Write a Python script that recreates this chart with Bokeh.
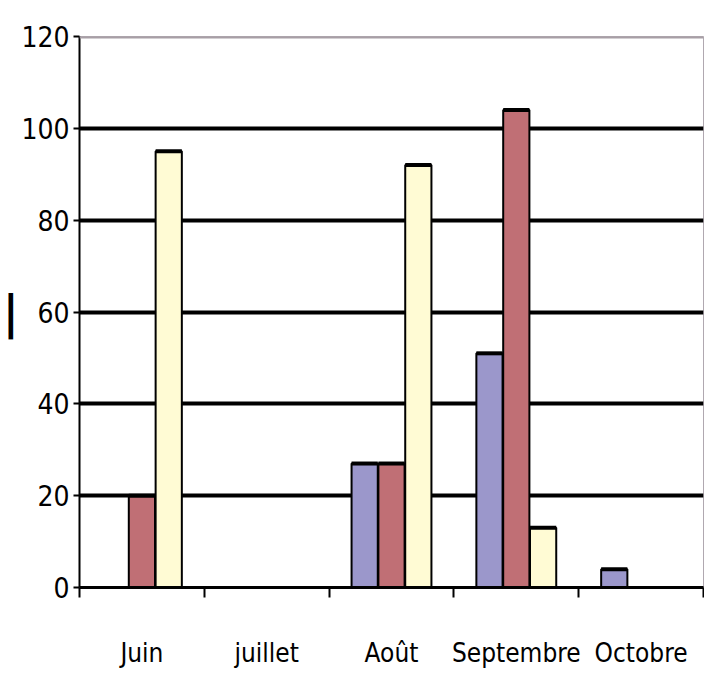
from bokeh.plotting import figure
from bokeh.models import FixedTicker, Span, ColumnDataSource
from bokeh.embed import file_html
from bokeh.resources import INLINE

categories = ["Juin", "juillet", "Août", "Septembre", "Octobre"]
serie_bleue = [0, 0, 27, 51, 4]
serie_rouge = [20, 0, 27, 104, 0]
serie_jaune = [95, 0, 92, 13, 0]
y_ticks = [0, 20, 40, 60, 80, 100, 120]

colors = ["#9b97cb", "#c06f75", "#fffbd4"]
offsets = [-0.215, 0.0, 0.215]
bar_w = 0.21
FONT = "'DejaVu Sans Condensed', 'Liberation Sans', sans-serif"

p = figure(width=704, height=677, x_range=(0, len(categories)), y_range=(0, 120),
           output_backend="svg", toolbar_location=None,
           min_border_left=79, min_border_right=1, min_border_top=36, min_border_bottom=90)
p.background_fill_color = "white"
p.border_fill_color = "white"
p.outline_line_color = "#b0a8b0"
p.outline_line_width = 1

centers = [i + 0.5 for i in range(len(categories))]
for vals, col, off in zip([serie_bleue, serie_rouge, serie_jaune], colors, offsets):
    xs = [c + off for c, v in zip(centers, vals) if v > 0]
    ys = [v for v in vals if v > 0]
    src = ColumnDataSource(dict(x=xs, top=ys,
                                x0=[x - bar_w / 2 for x in xs], x1=[x + bar_w / 2 for x in xs]))
    p.vbar(x="x", top="top", bottom=0, width=bar_w, source=src,
           fill_color=col, line_color="black", line_width=2)
    p.segment(x0="x0", x1="x1", y0="top", y1="top", source=src,
              line_color="black", line_width=4)

# grid
p.xgrid.visible = False
p.ygrid.ticker = FixedTicker(ticks=y_ticks[1:-1])
p.ygrid.grid_line_color = "black"
p.ygrid.grid_line_width = 4
p.ygrid.level = "underlay"
p.add_layout(Span(location=y_ticks[-1], dimension="width", line_color="#a89fa6", line_width=4))

# y axis
p.yaxis.ticker = FixedTicker(ticks=y_ticks)
p.yaxis.axis_line_color = "black"
p.yaxis.axis_line_width = 2
p.yaxis.major_tick_out = 6
p.yaxis.major_tick_in = 0
p.yaxis.major_tick_line_width = 2
p.yaxis.minor_tick_line_color = None
p.yaxis.major_label_text_font = FONT
p.yaxis.major_label_text_font_size = "28px"
p.yaxis.major_label_text_color = "black"
p.yaxis.major_label_standoff = 4
p.yaxis.axis_label = "|"
p.yaxis.axis_label_orientation = "horizontal"
p.yaxis.axis_label_text_font = FONT
p.yaxis.axis_label_text_font_size = "46px"
p.yaxis.axis_label_text_font_style = "bold"
p.yaxis.axis_label_text_color = "black"
p.yaxis.axis_label_standoff = 0

# x axis
p.xaxis.ticker = FixedTicker(ticks=centers, minor_ticks=list(range(len(categories) + 1)))
p.xaxis.major_label_overrides = {c: name for c, name in zip(centers, categories)}
p.xaxis.axis_line_color = "black"
p.xaxis.axis_line_width = 3
p.xaxis.major_tick_line_color = None
p.xaxis.minor_tick_out = 10
p.xaxis.minor_tick_in = 0
p.xaxis.minor_tick_line_color = "black"
p.xaxis.minor_tick_line_width = 2
p.xaxis.major_label_text_font = FONT
p.xaxis.major_label_text_font_size = "26px"
p.xaxis.major_label_text_color = "black"
p.xaxis.major_label_standoff = 40

open("out.html", "w").write(file_html(p, INLINE))
